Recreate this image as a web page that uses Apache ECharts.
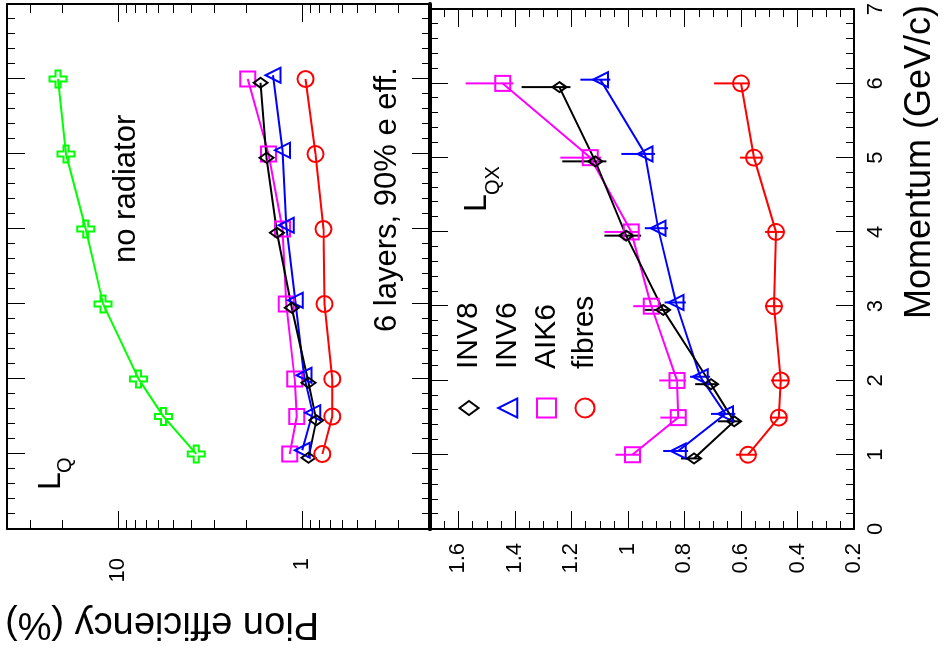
<!DOCTYPE html>
<html><head><meta charset="utf-8">
<script src="https://cdn.jsdelivr.net/npm/echarts@6/dist/echarts.min.js"></script>
<style>
html,body{margin:0;padding:0;overflow:hidden;background:#fff;width:945px;height:658px;}
#c{position:absolute;left:0;top:0;width:658px;height:945px;transform-origin:0 0;transform:translateY(658px) rotate(-90deg);}
</style></head><body><div id="c"></div>
<script>
// ---- momentum values (GeV/c) ----
const momStd  = [1, 1.5, 2, 3, 4, 5, 6];
const momInv8 = [0.95, 1.45, 1.95, 2.95, 3.95, 4.95, 5.95];
const momInv6 = [1.05, 1.55, 2.05, 3.05, 4.05, 5.05, 6.05];

// ---- L_Q panel: pion efficiency (%) ----
const lqNoRad  = [3.74, 5.64, 7.7, 12.0, 14.9, 19.1, 21.1];
const lqInv8   = [0.916, 0.83, 0.916, 1.13, 1.36, 1.55, 1.67];
const lqInv6   = [0.99, 0.87, 0.97, 1.08, 1.21, 1.27, 1.43];
const lqAik6   = [1.16, 1.06, 1.09, 1.21, 1.27, 1.51, 1.96];
const lqFibres = [0.77, 0.68, 0.68, 0.75, 0.76, 0.84, 0.95];

// ---- L_QX panel: pion efficiency (%) with error range ----
const lqxInv8     = [0.766, 0.624, 0.706, 0.875, 1.006, 1.115, 1.242];
const lqxInv8Hi   = [0.812, 0.681, 0.762, 0.942, 1.083, 1.232, 1.376];
const lqxInv8Lo   = [0.741, 0.600, 0.681, 0.857, 0.953, 1.076, 1.203];
const lqxInv6     = [0.822, 0.655, 0.744, 0.830, 0.893, 0.939, 1.097];
const lqxInv6Hi   = [0.875, 0.706, 0.780, 0.870, 0.940, 1.023, 1.168];
const lqxInv6Lo   = [0.787, 0.620, 0.709, 0.795, 0.858, 0.904, 1.062];
const lqxAik6     = [0.984, 0.822, 0.826, 0.917, 0.988, 1.133, 1.443];
const lqxAik6Hi   = [1.044, 0.885, 0.889, 0.981, 1.083, 1.239, 1.574];
const lqxAik6Lo   = [0.953, 0.794, 0.794, 0.875, 0.963, 1.094, 1.405];
const lqxFibres   = [0.575, 0.466, 0.459, 0.483, 0.476, 0.554, 0.600];
const lqxFibresHi = [0.617, 0.497, 0.494, 0.515, 0.515, 0.603, 0.695];
const lqxFibresLo = [0.545, 0.436, 0.429, 0.453, 0.446, 0.524, 0.570];

// ---- tick values ----
const logMajorTicks = [1, 10];
const logMinorTicks = [0.2, 0.3, 0.4, 0.5, 0.6, 0.7, 0.8, 0.9, 2, 3, 4, 5, 6, 7, 8, 9, 20, 30, 40];
const linMajorTicks = [0.2, 0.4, 0.6, 0.8, 1, 1.2, 1.4, 1.6];
const linMinorTicks = [0.25, 0.3, 0.35, 0.45, 0.5, 0.55, 0.65, 0.7, 0.75, 0.85, 0.9, 0.95,
                       1.05, 1.1, 1.15, 1.25, 1.3, 1.35, 1.45, 1.5, 1.55, 1.65];

const FONT = 'Liberation Sans, Arial, Helvetica, sans-serif';
const BLACK = '#000000', GREEN = '#00ff00', MAGENTA = '#ff00ff', BLUE = '#0000ff', RED = '#ff0000';
const crossPath = 'path://M6,0H11V6H17V11H11V17H6V11H0V6H6Z';
const diamondPath = 'path://M7,0L14,9.5L7,19L0,9.5Z';

const chart = echarts.init(document.getElementById('c'), null, {renderer: 'canvas'});

const axisLine = {show: true, onZero: false, lineStyle: {color: BLACK, width: 2}};
const dividerLine = {show: true, onZero: false, lineStyle: {color: BLACK, width: 4}};
const tickLine = {color: BLACK, width: 1};

function momAxis(gridIndex, position, showLabel, divider) {
  return {
    type: 'value', gridIndex, position, min: 0, max: 7, interval: 1,
    axisLine: divider ? dividerLine : axisLine,
    axisTick: {show: true, inside: true, length: 18, lineStyle: tickLine},
    minorTick: {show: true, splitNumber: 5, length: 8, lineStyle: tickLine},
    axisLabel: {show: showLabel, margin: 11, fontSize: 22, fontFamily: FONT, color: BLACK},
    splitLine: {show: false}, minorSplitLine: {show: false}
  };
}
function effAxis(opt) {
  const a = {
    type: opt.log ? 'log' : 'value', gridIndex: opt.grid, position: opt.position,
    min: 0.2, max: opt.log ? 40 : 1.7,
    axisLine,
    axisTick: {show: false},
    axisLabel: opt.labels ? {show: true, customValues: opt.labels, margin: opt.margin, fontSize: 22, fontFamily: FONT, color: BLACK}
                          : {show: false},
    splitLine: {show: false}
  };
  if (opt.log) a.logBase = 10;
  return a;
}

// tick marks on both vertical frame edges of a panel, placed through the panel's value axis
function tickSeries(values, xi, yi, len) {
  return {
    type: 'custom', xAxisIndex: xi, yAxisIndex: yi, silent: true, z: 1, clip: false,
    data: values.map(v => [0, v]),
    encode: {x: 0, y: 1},
    renderItem: function (params, api) {
      const cs = params.coordSys;
      const y = Math.round(api.coord([0, api.value(1)])[1]) + 0.5;
      const st = {stroke: BLACK, lineWidth: 1};
      return {type: 'group', children: [
        {type: 'line', shape: {x1: cs.x, y1: y, x2: cs.x + len, y2: y}, style: st},
        {type: 'line', shape: {x1: cs.x + cs.width - len, y1: y, x2: cs.x + cs.width, y2: y}, style: st}
      ]};
    }
  };
}

function lineSeries(name, mom, vals, xi, yi, color, symbol, size) {
  return {
    type: 'line', name, xAxisIndex: xi, yAxisIndex: yi,
    data: mom.map((m, i) => [m, vals[i]]),
    symbol, symbolSize: size, showAllSymbol: true,
    lineStyle: {color, width: 2},
    itemStyle: {color: 'rgba(0,0,0,0)', borderColor: color, borderWidth: 2},
    emphasis: {disabled: true}, silent: true, z: 3
  };
}
function errSeries(mom, lo, hi, color) {
  return {
    type: 'custom', xAxisIndex: 3, yAxisIndex: 2, silent: true, z: 2,
    data: mom.map((m, i) => [m, lo[i], hi[i]]),
    encode: {x: 0, y: [1, 2]},
    renderItem: function (params, api) {
      const a = api.coord([api.value(0), api.value(1)]);
      const b = api.coord([api.value(0), api.value(2)]);
      return {type: 'line', shape: {x1: a[0], y1: a[1], x2: b[0], y2: b[1]},
              style: {stroke: color, lineWidth: 2}};
    }
  };
}

const legendStyle = c => ({color: 'rgba(0,0,0,0)', borderColor: c, borderWidth: 2});

function txt(text, x, y, size, opts) {
  opts = opts || {};
  return {type: 'text', x, y, rotation: opts.rotation || 0, silent: true,
    style: {text, fontSize: size, fontFamily: FONT, fill: BLACK,
            textAlign: opts.align || 'left', textVerticalAlign: 'middle'}};
}

const option = {
  backgroundColor: '#ffffff',
  animation: false,
  grid: [
    {left: 129, top: 7, width: 525, height: 423},
    {left: 129, top: 430, width: 525, height: 424}
  ],
  xAxis: [
    momAxis(0, 'bottom', false, true),
    momAxis(0, 'top', false, false),
    momAxis(1, 'top', false, true),
    momAxis(1, 'bottom', true, false)
  ],
  yAxis: [
    effAxis({log: true, grid: 0, position: 'left', labels: logMajorTicks, margin: 29}),
    effAxis({log: true, grid: 0, position: 'right'}),
    effAxis({log: false, grid: 1, position: 'left', labels: linMajorTicks, margin: 14}),
    effAxis({log: false, grid: 1, position: 'right'})
  ],
  legend: {
    orient: 'vertical', left: 239.5, top: 454, padding: 0,
    itemWidth: 19, itemHeight: 19, itemGap: 8.7, selectedMode: false, symbolKeepAspect: true,
    textStyle: {fontSize: 30, fontFamily: FONT, color: BLACK, lineHeight: 30, padding: [0, 0, 0, 24.5]},
    data: [
      {name: 'INV8', icon: diamondPath, itemStyle: legendStyle(BLACK)},
      {name: 'INV6', icon: 'triangle', itemStyle: legendStyle(BLUE)},
      {name: 'AIK6', icon: 'rect', itemStyle: legendStyle(MAGENTA)},
      {name: 'fibres', icon: 'circle', itemStyle: legendStyle(RED)}
    ]
  },
  series: [
    // tick marks on the efficiency axes
    tickSeries(logMajorTicks, 0, 0, 18),
    tickSeries(logMinorTicks, 0, 0, 9),
    tickSeries(linMajorTicks, 3, 2, 18),
    tickSeries(linMinorTicks, 3, 2, 8),
    // L_Q panel
    lineSeries('no radiator', momStd, lqNoRad, 0, 0, GREEN, crossPath, 17),
    lineSeries('AIK6', momStd, lqAik6, 0, 0, MAGENTA, 'rect', 15),
    lineSeries('INV6', momInv6, lqInv6, 0, 0, BLUE, 'triangle', 15),
    lineSeries('INV8', momInv8, lqInv8, 0, 0, BLACK, 'diamond', [10, 14]),
    lineSeries('fibres', momStd, lqFibres, 0, 0, RED, 'circle', 16),
    // L_QX panel
    errSeries(momStd, lqxAik6Lo, lqxAik6Hi, MAGENTA),
    errSeries(momInv6, lqxInv6Lo, lqxInv6Hi, BLUE),
    errSeries(momInv8, lqxInv8Lo, lqxInv8Hi, BLACK),
    errSeries(momStd, lqxFibresLo, lqxFibresHi, RED),
    lineSeries('AIK6', momStd, lqxAik6, 3, 2, MAGENTA, 'rect', 15),
    lineSeries('INV6', momInv6, lqxInv6, 3, 2, BLUE, 'triangle', 15),
    lineSeries('INV8', momInv8, lqxInv8, 3, 2, BLACK, 'diamond', [10, 14]),
    lineSeries('fibres', momStd, lqxFibres, 3, 2, RED, 'circle', 16)
  ],
  graphic: [
    txt('no radiator', 395, 126, 31),
    txt('6 layers, 90% e eff.', 326, 387, 31),
    txt('L', 168, 51, 32),
    txt('Q', 185, 65, 20),
    txt('L', 446, 477, 32),
    txt('QX', 463, 493, 20),
    txt('Momentum (GeV/c)', 653, 920, 36, {align: 'right'}),
    txt('Pion efficiency (%)', 35, 5, 38, {align: 'right', rotation: Math.PI / 2})
  ]
};
chart.setOption(option);
</script></body></html>
